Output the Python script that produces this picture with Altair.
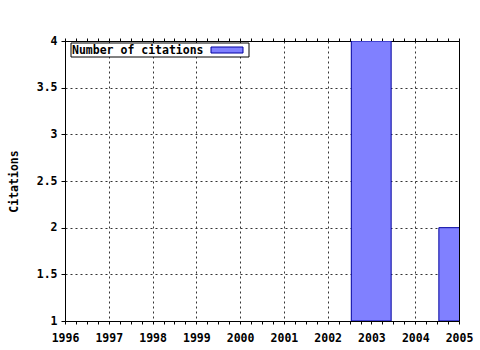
import altair as alt
import pandas as pd

years = [2003, 2005]
citations = [4, 2]
legend_label = ["Number of citations"]
x_tick_values = [1996 + 0.25 * i for i in range(37)]
y_tick_values = [1, 1.5, 2, 2.5, 3, 3.5, 4]

FONT = "DejaVu Sans Mono"
FS = 11.5

df = pd.DataFrame({"year": years, "citations": citations})
leg = pd.DataFrame({"label": legend_label})

xscale = alt.Scale(domain=[1996, 2005], nice=False, zero=False)
yscale = alt.Scale(domain=[1, 4], nice=False, zero=False)

x_axis = alt.Axis(
    orient="bottom", values=x_tick_values,
    labelExpr="datum.value % 1 === 0 ? '' + datum.value : ''",
    labelOverlap=False, labelFlush=False,
    labelFont=FONT, labelFontSize=FS, labelFontWeight="bold", labelColor="black",
    labelPadding=8,
    tickSize=3, tickColor="black", domainColor="black",
    grid=True, gridColor="#333", gridDash=[2, 3],
    gridOpacity={"condition": {"test": "datum.value % 1 === 0 && datum.value > 1996 && datum.value < 2005", "value": 1}, "value": 0},
    title=None,
)

y_axis = alt.Axis(
    values=y_tick_values,
    labelExpr="'' + datum.value",
    labelFont=FONT, labelFontSize=FS, labelFontWeight="bold", labelColor="black",
    labelPadding=4, labelOverlap=False, labelFlush=False,
    tickSize=4, tickColor="black", domainColor="black",
    grid=True, gridColor="#333", gridDash=[2, 3],
    gridOpacity={"condition": {"test": "datum.value > 1 && datum.value < 4", "value": 1}, "value": 0},
    title="Citations", titleFont=FONT, titleFontSize=FS, titleFontWeight="bold",
    titleColor="black", titlePadding=17,
)

bars = alt.Chart(df).transform_calculate(
    x0="datum.year - 0.46", x1="datum.year + 0.45", base="1"
).mark_bar(fill="#8080ff", stroke="#0000a0", strokeWidth=1, clip=True).encode(
    x=alt.X("x0:Q", scale=xscale, axis=x_axis),
    x2="x1:Q",
    y=alt.Y("citations:Q", scale=yscale, axis=y_axis),
    y2="base:Q",
)

top = alt.Chart(df).mark_point(opacity=0).encode(
    x=alt.X("year:Q", scale=xscale, axis=alt.Axis(
        orient="top", values=x_tick_values, labels=False, grid=False,
        tickSize=3, tickColor="black", domainColor="black", title=None)),
    y=alt.Y("citations:Q", scale=yscale),
)

box = alt.Chart(leg).mark_rect(fill="white", stroke="black", strokeWidth=1).encode(
    x=alt.value(6), x2=alt.value(184), y=alt.value(2), y2=alt.value(16)
)
label = alt.Chart(leg).mark_text(
    align="left", baseline="middle", font=FONT, fontSize=FS, fontWeight="bold", color="black"
).encode(x=alt.value(7), y=alt.value(9.5), text="label:N")
swatch = alt.Chart(leg).mark_rect(fill="#8080ff", stroke="#0000a0", strokeWidth=1).encode(
    x=alt.value(146), x2=alt.value(178), y=alt.value(6), y2=alt.value(12)
)

chart = alt.layer(bars, top, box, label, swatch).resolve_axis(x="independent").properties(
    width=394, height=280,
    padding={"left": 65, "top": 41, "right": 21, "bottom": 29},
    autosize=alt.AutoSizeParams(type="none"),
    background="white",
).configure_view(stroke="black", strokeWidth=1)

chart.save("out.html", embed_options={"renderer": "svg", "actions": False})
